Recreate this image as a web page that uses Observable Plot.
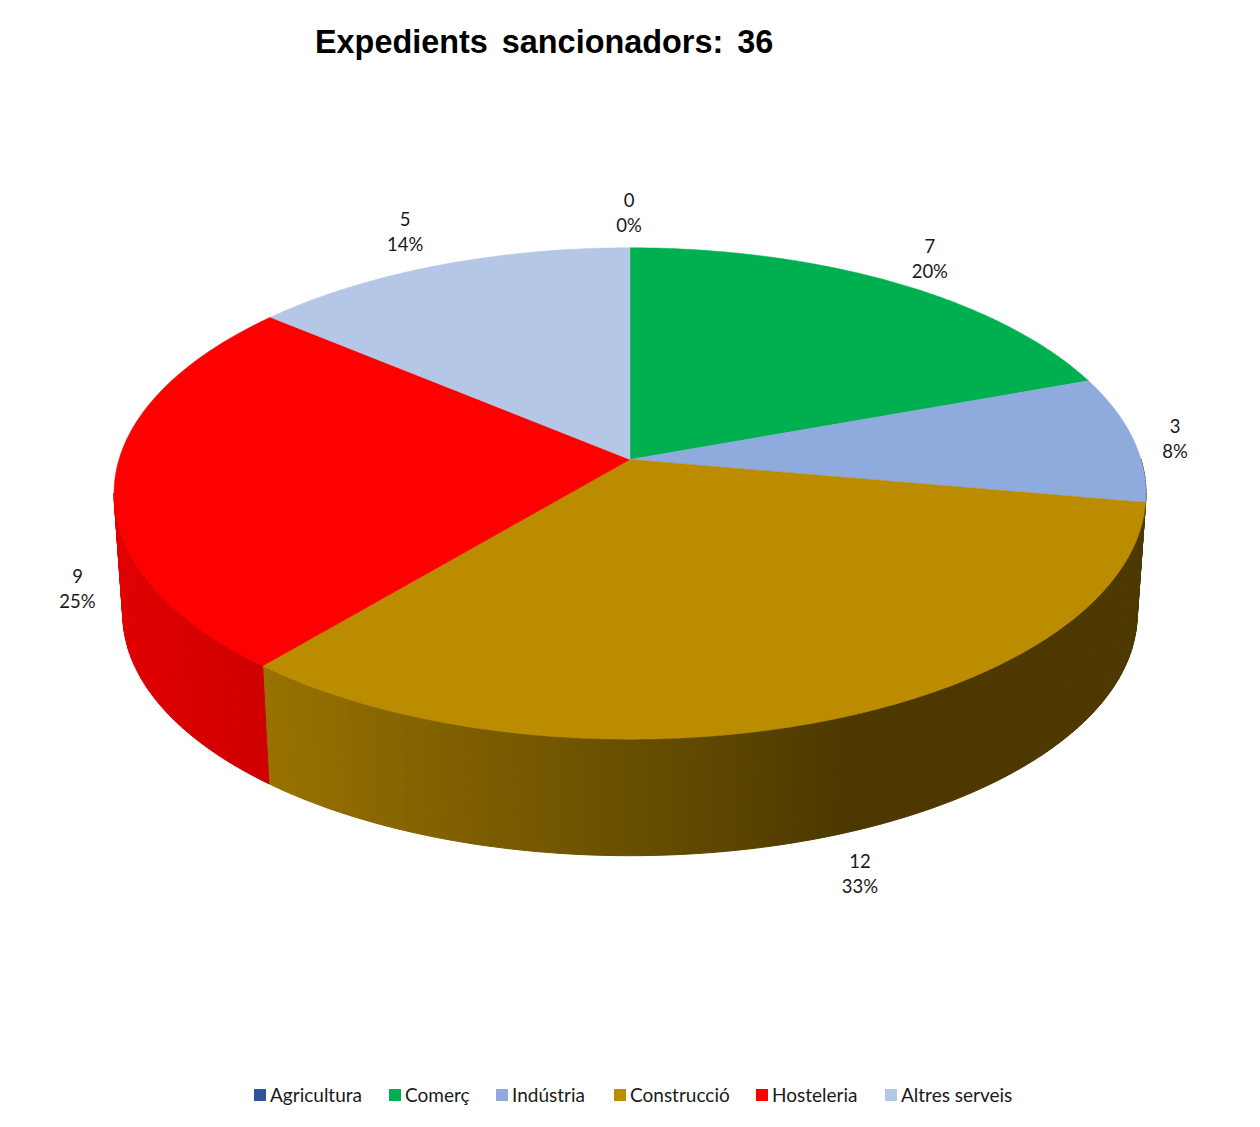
<!DOCTYPE html>
<html>
<head>
<meta charset="utf-8">
<script src="https://cdn.jsdelivr.net/npm/d3@7"></script>
<script src="https://cdn.jsdelivr.net/npm/@observablehq/plot@0.6"></script>
<style>
  html, body { margin: 0; padding: 0; background: #fff; }
  #title { height: 84px; box-sizing: border-box; padding: 22px 0 0 315px; font: bold 32.4px/40px "Liberation Sans", Arial, sans-serif; word-spacing: 5px; color: #000; white-space: nowrap; }
  #chart svg { display: block; }
  #legend { height: 83px; box-sizing: border-box; position: relative; font: 19px/24px Lato, sans-serif; color: #1a1a1a; }
  #legend .item { position: absolute; top: 39px; display: flex; align-items: center; white-space: nowrap; }
  #legend i { display: block; width: 12px; height: 12px; margin-right: 4px; }
</style>
</head>
<body>
<div id="title">Expedients sancionadors: 36</div>
<div id="chart"></div>
<div id="legend"></div>
<script>
const categories = ["Agricultura", "Comerç", "Indústria", "Construcció", "Hosteleria", "Altres serveis"];
const values = [0, 7, 3, 12, 9, 5];
const percents = [0, 20, 8, 33, 25, 14];
const colors = ["#2f5597", "#00b050", "#8faadc", "#bb8c00", "#ff0000", "#b4c7e7"];

// Perspective model of the tilted pie, in picture pixels
const W = 1260, svgTop = 84, svgHeight = 960;
const cx = 629.5, apexY = 459, floorY = 580.3;
const radX = 511, radY = 241, persp = 0.1382, floorScale = 0.983;
const rad = a => a * Math.PI / 180;
const topRim = a => {
  const w = 1 + persp * Math.cos(rad(a));
  return [cx + radX * Math.sin(rad(a)) / w, apexY - radY * Math.cos(rad(a)) / w];
};
const floorRim = a => {
  const w = 1 + persp * Math.cos(rad(a));
  return [cx + floorScale * radX * Math.sin(rad(a)) / w, floorY - floorScale * radY * Math.cos(rad(a)) / w];
};
// Side-wall shading against horizontal position
const shade = d3.scaleLinear().domain([120, 270, 840]).range([0.88, 0.81, 0.41]).clamp(true);
const darken = (hex, k) => {
  const c = d3.rgb(hex);
  return d3.rgb(c.r * k, c.g * k, c.b * k).formatHex();
};

const total = d3.sum(values);
const cum = d3.cumsum(values);
const slices = categories.map((name, i) => ({
  name, i, value: values[i], percent: percents[i], color: colors[i],
  start: (cum[i] - values[i]) / total * 360,
  end: cum[i] / total * 360
}));
const sideLimit = 180 + Math.acos(persp) * 180 / Math.PI;

const topPts = [];
const sidePts = [];
for (const s of slices) {
  if (s.value === 0) continue;
  topPts.push({ x: cx, y: apexY, z: s.name, color: s.color });
  for (const a of d3.range(s.start, s.end, 0.5).concat(s.end)) {
    const [x, y] = topRim(a);
    topPts.push({ x, y, z: s.name, color: s.color });
  }
  topPts.push({ x: cx, y: apexY, z: s.name, color: s.color });
  const from = Math.max(s.start, 90), to = Math.min(s.end, sideLimit);
  if (to <= from) continue;
  for (const a of d3.range(from, to, 1)) {
    const b = Math.min(a + 1, to);
    const [x1, y1] = topRim(a), [x2, y2] = topRim(b), [x3, y3] = floorRim(b), [x4, y4] = floorRim(a);
    const col = darken(s.color, shade((x1 + x2 + x3 + x4) / 4));
    const z = s.name + a;
    sidePts.push({ x: x1, y: y1, z, color: col }, { x: x2, y: y2, z, color: col },
      { x: x3, y: y3, z, color: col }, { x: x4, y: y4, z, color: col }, { x: x1, y: y1, z, color: col });
  }
}

// Label nudges from the rim anchor, as dx / dy
const labelDx = [-1, 36.5, 42, 32.5, -46, -33];
const labelDy = [-36.5, -25, -1, 35.5, -14, -35];
const labelFont = { fontFamily: "Lato, sans-serif", fontSize: 18.5, fill: "#1a1a1a", lineHeight: 1.36, textAnchor: "middle", lineAnchor: "middle" };
const labelMarks = slices.map((s, i) => {
  const mid = (s.start + s.end) / 2;
  const [x, y] = Math.cos(rad(mid)) < 0 ? floorRim(mid) : topRim(mid);
  return Plot.text([{ x, y, t: `${s.value}\n${s.percent}%` }], { x: "x", y: "y", text: "t", dx: labelDx[i], dy: labelDy[i], ...labelFont });
});

const chart = Plot.plot({
  width: W, height: svgHeight,
  marginTop: 0, marginRight: 0, marginBottom: 0, marginLeft: 0,
  style: { background: "#fff" },
  x: { domain: [0, W], range: [0, W], axis: null },
  y: { domain: [svgTop, svgTop + svgHeight], range: [0, svgHeight], axis: null },
  marks: [
    Plot.line(sidePts, { x: "x", y: "y", z: "z", fill: "color", stroke: "color", strokeWidth: 1, curve: "linear" }),
    Plot.line(topPts, { x: "x", y: "y", z: "z", fill: "color", stroke: "color", strokeWidth: 0.5, curve: "linear" }),
    ...labelMarks
  ]
});
document.getElementById("chart").append(chart);

const legendLefts = [254, 389, 496, 614, 756, 885];
const legend = d3.select("#legend");
categories.forEach((name, i) => {
  const item = legend.append("div").attr("class", "item").style("left", legendLefts[i] + "px");
  item.append("i").style("background", colors[i]);
  item.append("span").text(name);
});
</script>
</body>
</html>
